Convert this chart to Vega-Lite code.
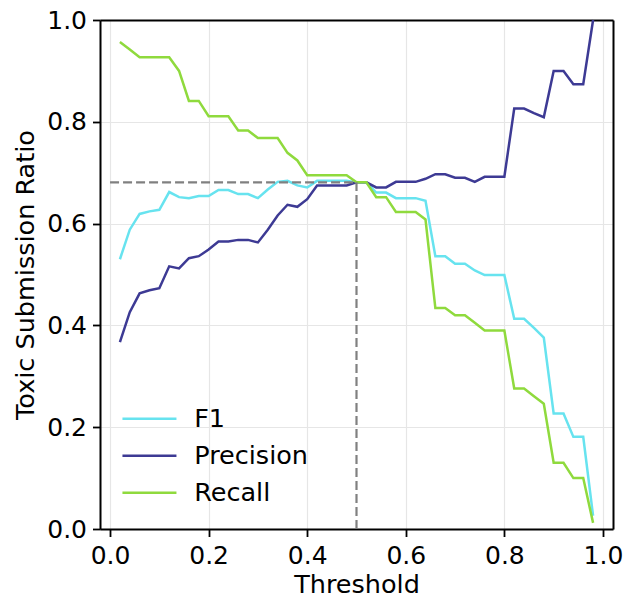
{
  "$schema": "https://vega.github.io/schema/vega-lite/v6.json",
  "width": 513,
  "height": 509,
  "autosize": "none",
  "padding": {"left": 100, "top": 20, "right": 12, "bottom": 68},
  "background": "white",
  "config": {
    "font": "DejaVu Sans",
    "view": {"stroke": null},
    "axis": {
      "domain": true,
      "domainColor": "black",
      "domainWidth": 2,
      "tickColor": "black",
      "tickSize": 7.5,
      "tickWidth": 1.8,
      "labelFontSize": 25,
      "labelColor": "black",
      "titleFontSize": 25.5,
      "titleFontWeight": "normal",
      "titleColor": "black",
      "gridColor": "#e6e6e6",
      "gridWidth": 1.2
    },
    "legend": {
      "title": null,
      "orient": "none",
      "legendX": 36.7,
      "legendY": 386,
      "padding": 0,
      "symbolType": "M-2.7,0H2.7",
      "symbolSize": 400,
      "symbolStrokeWidth": 2.5,
      "labelFontSize": 25.5,
      "labelColor": "black",
      "labelOffset": 32,
      "rowPadding": 10
    }
  },
  "datasets": {
    "curves": [
      {"t": 0.02, "F1": 0.530, "Precision": 0.367, "Recall": 0.957},
      {"t": 0.04, "F1": 0.588, "Precision": 0.426, "Recall": 0.942},
      {"t": 0.06, "F1": 0.619, "Precision": 0.463, "Recall": 0.927},
      {"t": 0.08, "F1": 0.624, "Precision": 0.469, "Recall": 0.927},
      {"t": 0.10, "F1": 0.627, "Precision": 0.473, "Recall": 0.927},
      {"t": 0.12, "F1": 0.662, "Precision": 0.516, "Recall": 0.927},
      {"t": 0.14, "F1": 0.652, "Precision": 0.512, "Recall": 0.900},
      {"t": 0.16, "F1": 0.650, "Precision": 0.532, "Recall": 0.841},
      {"t": 0.18, "F1": 0.654, "Precision": 0.536, "Recall": 0.841},
      {"t": 0.20, "F1": 0.654, "Precision": 0.549, "Recall": 0.811},
      {"t": 0.22, "F1": 0.666, "Precision": 0.565, "Recall": 0.811},
      {"t": 0.24, "F1": 0.666, "Precision": 0.565, "Recall": 0.811},
      {"t": 0.26, "F1": 0.658, "Precision": 0.568, "Recall": 0.783},
      {"t": 0.28, "F1": 0.658, "Precision": 0.568, "Recall": 0.783},
      {"t": 0.30, "F1": 0.650, "Precision": 0.563, "Recall": 0.768},
      {"t": 0.32, "F1": 0.667, "Precision": 0.588, "Recall": 0.768},
      {"t": 0.34, "F1": 0.682, "Precision": 0.616, "Recall": 0.768},
      {"t": 0.36, "F1": 0.684, "Precision": 0.637, "Recall": 0.739},
      {"t": 0.38, "F1": 0.675, "Precision": 0.633, "Recall": 0.724},
      {"t": 0.40, "F1": 0.671, "Precision": 0.648, "Recall": 0.695},
      {"t": 0.42, "F1": 0.684, "Precision": 0.675, "Recall": 0.695},
      {"t": 0.44, "F1": 0.684, "Precision": 0.675, "Recall": 0.695},
      {"t": 0.46, "F1": 0.684, "Precision": 0.675, "Recall": 0.695},
      {"t": 0.48, "F1": 0.684, "Precision": 0.675, "Recall": 0.695},
      {"t": 0.50, "F1": 0.681, "Precision": 0.681, "Recall": 0.681},
      {"t": 0.52, "F1": 0.681, "Precision": 0.681, "Recall": 0.681},
      {"t": 0.54, "F1": 0.661, "Precision": 0.671, "Recall": 0.652},
      {"t": 0.56, "F1": 0.661, "Precision": 0.671, "Recall": 0.652},
      {"t": 0.58, "F1": 0.650, "Precision": 0.682, "Recall": 0.623},
      {"t": 0.60, "F1": 0.650, "Precision": 0.682, "Recall": 0.623},
      {"t": 0.62, "F1": 0.650, "Precision": 0.682, "Recall": 0.623},
      {"t": 0.64, "F1": 0.645, "Precision": 0.688, "Recall": 0.608},
      {"t": 0.66, "F1": 0.536, "Precision": 0.697, "Recall": 0.434},
      {"t": 0.68, "F1": 0.536, "Precision": 0.697, "Recall": 0.434},
      {"t": 0.70, "F1": 0.521, "Precision": 0.690, "Recall": 0.420},
      {"t": 0.72, "F1": 0.521, "Precision": 0.690, "Recall": 0.420},
      {"t": 0.74, "F1": 0.508, "Precision": 0.682, "Recall": 0.405},
      {"t": 0.76, "F1": 0.499, "Precision": 0.692, "Recall": 0.390},
      {"t": 0.78, "F1": 0.499, "Precision": 0.692, "Recall": 0.390},
      {"t": 0.80, "F1": 0.499, "Precision": 0.692, "Recall": 0.390},
      {"t": 0.82, "F1": 0.413, "Precision": 0.826, "Recall": 0.276},
      {"t": 0.84, "F1": 0.413, "Precision": 0.826, "Recall": 0.276},
      {"t": 0.86, "F1": 0.395, "Precision": 0.817, "Recall": 0.261},
      {"t": 0.88, "F1": 0.376, "Precision": 0.809, "Recall": 0.246},
      {"t": 0.90, "F1": 0.227, "Precision": 0.900, "Recall": 0.130},
      {"t": 0.92, "F1": 0.227, "Precision": 0.900, "Recall": 0.130},
      {"t": 0.94, "F1": 0.181, "Precision": 0.874, "Recall": 0.100},
      {"t": 0.96, "F1": 0.181, "Precision": 0.874, "Recall": 0.100},
      {"t": 0.98, "F1": 0.026, "Precision": 1.000, "Recall": 0.012}
    ],
    "guides": [
      {"seg": "h", "x": 0.0, "y": 0.681},
      {"seg": "h", "x": 0.5, "y": 0.681},
      {"seg": "v", "x": 0.5, "y": 0.0},
      {"seg": "v", "x": 0.5, "y": 0.681}
    ]
  },
  "layer": [
    {
      "data": {"name": "curves"},
      "transform": [{"fold": ["F1", "Precision", "Recall"], "as": ["metric", "value"]}],
      "mark": {"type": "line", "strokeWidth": 2.5},
      "encoding": {
        "x": {
          "field": "t", "type": "quantitative",
          "scale": {"domain": [-0.0204, 1.0204], "nice": false, "zero": false},
          "axis": {"orient": "bottom", "values": [0, 0.2, 0.4, 0.6, 0.8, 1.0], "format": ".1f", "title": "Threshold", "labelPadding": 6.5, "titleBaseline": "alphabetic", "titleY": 63.5}
        },
        "y": {
          "field": "value", "type": "quantitative",
          "scale": {"domain": [0, 1], "nice": false},
          "axis": {"orient": "left", "values": [0, 0.2, 0.4, 0.6, 0.8, 1.0], "format": ".1f", "title": "Toxic Submission Ratio", "labelPadding": 6, "titleBaseline": "alphabetic", "titleX": -67}
        },
        "color": {
          "field": "metric", "type": "nominal",
          "scale": {"domain": ["F1", "Precision", "Recall"], "range": ["#67e3ef", "#3d3a94", "#8fda3d"]}
        }
      }
    },
    {
      "data": {"name": "guides"},
      "mark": {"type": "line", "color": "#808080", "strokeWidth": 2.2, "strokeDash": [9, 4]},
      "encoding": {
        "x": {"field": "x", "type": "quantitative", "axis": {"orient": "top", "labels": false, "ticks": false, "grid": false, "title": null, "domain": true}},
        "y": {"field": "y", "type": "quantitative", "axis": {"orient": "right", "labels": false, "ticks": false, "grid": false, "title": null, "domain": true}},
        "detail": {"field": "seg", "type": "nominal"}
      }
    }
  ]
}
